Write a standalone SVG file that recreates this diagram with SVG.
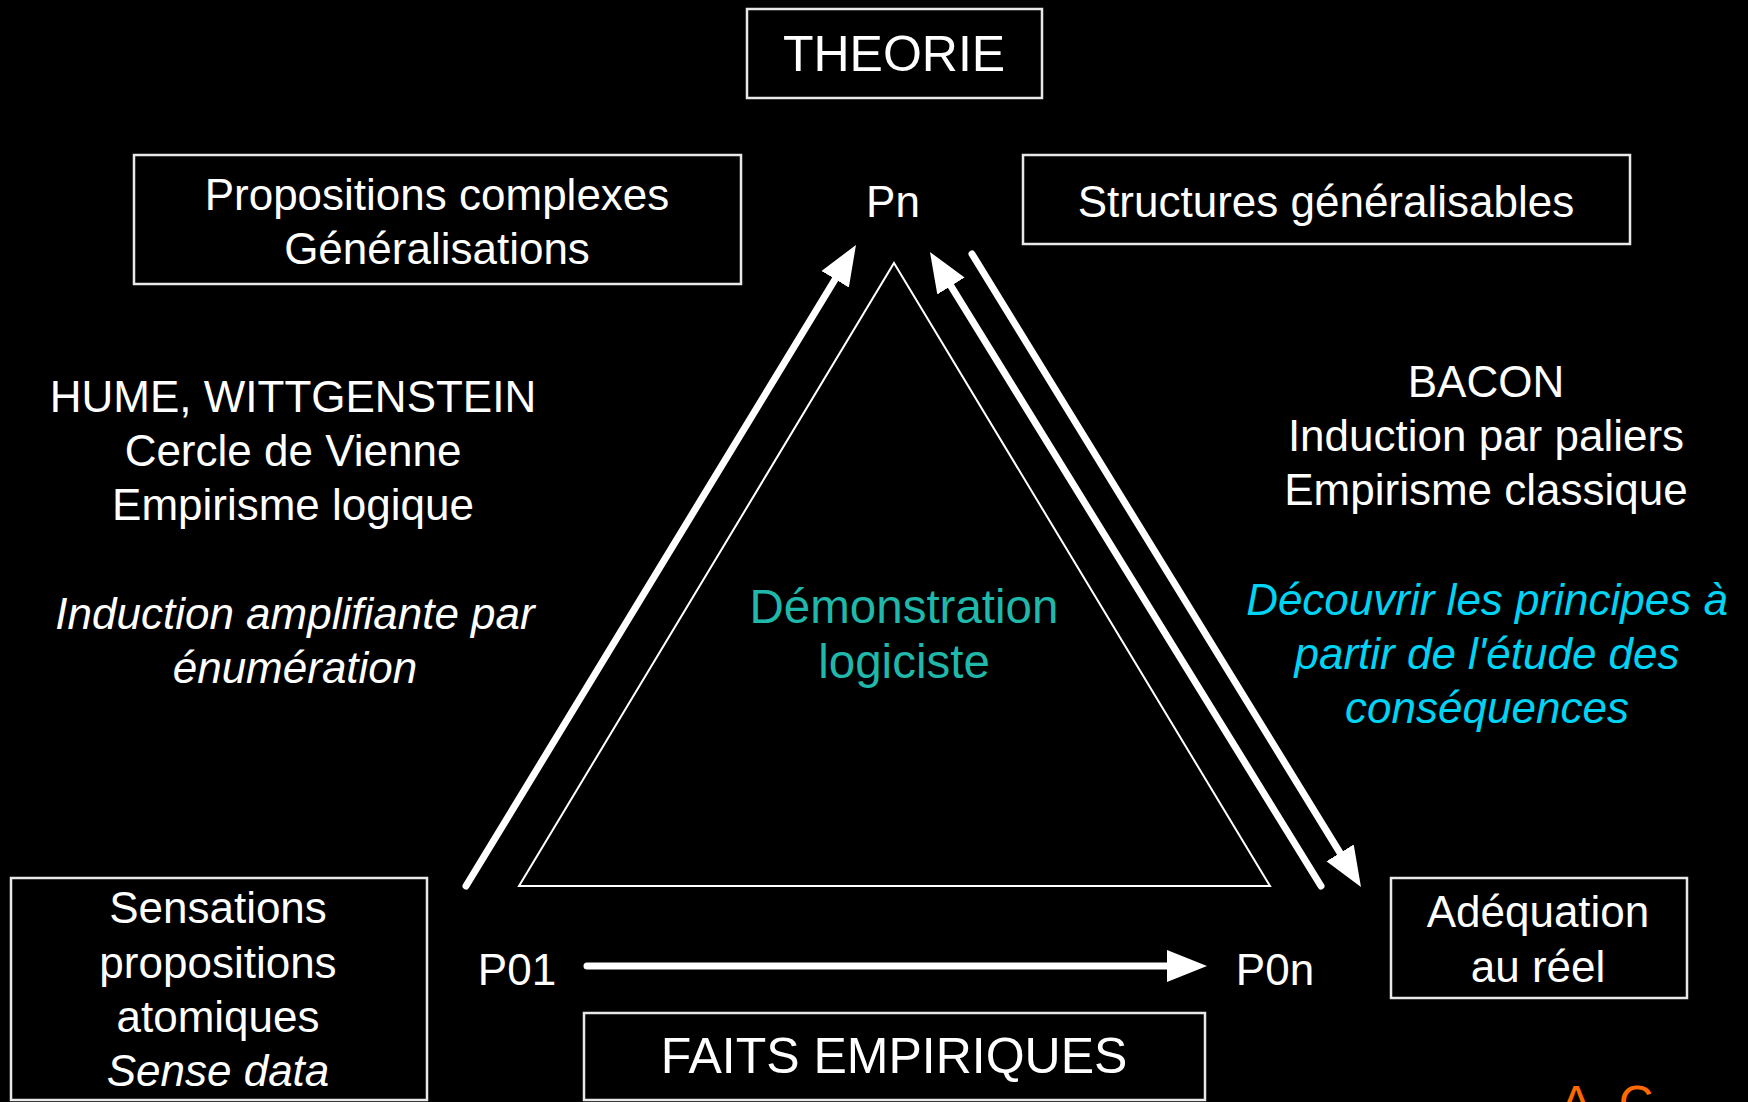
<svg xmlns="http://www.w3.org/2000/svg" width="1748" height="1102" viewBox="0 0 1748 1102">
<defs>
<style>
text{font-family:"Liberation Sans",Arial,Helvetica,sans-serif;font-size:44px;fill:#ffffff;text-anchor:middle}
.box{fill:#000;stroke:#e8e8e8;stroke-width:2.5}
.it{font-style:italic}
.big{font-size:50px}
.teal{fill:#1fb8aa;font-size:47.5px}
.cyan{fill:#00d4f4}
.orange{fill:#ff6a00;font-size:48px;text-anchor:start}
.shaft{stroke:#fff;stroke-width:7;stroke-linecap:round;fill:none}
.tri{fill:none;stroke:#fff;stroke-width:2}
</style>
<marker id="ah" markerUnits="userSpaceOnUse" markerWidth="44" markerHeight="36" viewBox="0 -18 44 36" refX="2" refY="0" orient="auto">
<path d="M0,-16 L40,0 L0,16 Z" fill="#fff"/>
</marker>
</defs>
<rect x="0" y="0" width="1748" height="1102" fill="#000"/>

<g id="theorie">
<rect class="box" x="747" y="9" width="295" height="89"/>
<text class="big" x="894" y="71">THEORIE</text>
</g>

<g id="propositions-complexes">
<rect class="box" x="134" y="155" width="607" height="129"/>
<text x="437" y="210">Propositions complexes</text>
<text x="437" y="264">Généralisations</text>
</g>

<g id="pn">
<text x="893" y="217">Pn</text>
</g>

<g id="structures">
<rect class="box" x="1023" y="155" width="607" height="89"/>
<text x="1326" y="217">Structures généralisables</text>
</g>

<g id="hume">
<text x="293" y="412">HUME, WITTGENSTEIN</text>
<text x="293" y="466">Cercle de Vienne</text>
<text x="293" y="520">Empirisme logique</text>
<text class="it" x="295" y="629">Induction amplifiante par</text>
<text class="it" x="295" y="683">énumération</text>
</g>

<g id="bacon">
<text x="1486" y="397">BACON</text>
<text x="1486" y="451">Induction par paliers</text>
<text x="1486" y="505">Empirisme classique</text>
<text class="it cyan" x="1487" y="615">Découvrir les principes à</text>
<text class="it cyan" x="1487" y="669">partir de l'étude des</text>
<text class="it cyan" x="1487" y="723">conséquences</text>
</g>

<g id="triangle">
<polygon class="tri" points="894,263 1270,886 519,886"/>
</g>

<g id="demonstration">
<text class="teal" x="904" y="623">Démonstration</text>
<text class="teal" x="904" y="678">logiciste</text>
</g>

<g id="p01">
<text x="517" y="985">P01</text>
</g>

<g id="p0n">
<text x="1275" y="985">P0n</text>
</g>

<g id="sensations">
<rect class="box" x="11" y="878" width="416" height="222"/>
<text x="218" y="923">Sensations</text>
<text x="218" y="978">propositions</text>
<text x="218" y="1032">atomiques</text>
<text class="it" x="218" y="1086">Sense data</text>
</g>

<g id="faits-empiriques">
<rect class="box" x="584" y="1013" width="621" height="87"/>
<text class="big" x="894" y="1073">FAITS EMPIRIQUES</text>
</g>

<g id="adequation">
<rect class="box" x="1391" y="878" width="296" height="120"/>
<text x="1538" y="927">Adéquation</text>
<text x="1538" y="982">au réel</text>
</g>

<g id="signature">
<text class="orange" x="1560" y="1119">A. C.</text>
</g>

<g id="connectors">
<line class="shaft" x1="466" y1="886" x2="836.2" y2="277.5" marker-end="url(#ah)"/>
<line class="shaft" x1="1321" y1="886" x2="949.9" y2="284.3" marker-end="url(#ah)"/>
<line class="shaft" x1="972" y1="254" x2="1341.1" y2="854.6" marker-end="url(#ah)"/>
<line class="shaft" x1="587" y1="966" x2="1169" y2="966" marker-end="url(#ah)"/>
</g>
</svg>
